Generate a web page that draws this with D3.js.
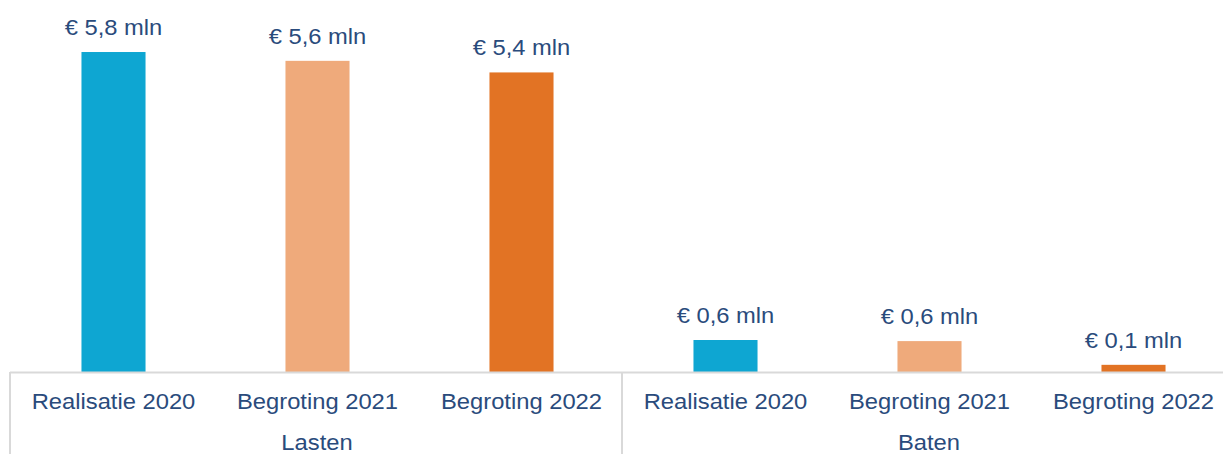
<!DOCTYPE html>
<html>
<head>
<meta charset="utf-8">
<script src="https://cdn.jsdelivr.net/npm/d3@7"></script>
<style>
  body { margin: 0; background: #fff; }
  text { font-family: "Liberation Sans", Arial, sans-serif; fill: #2a4b7c; }
</style>
</head>
<body>
<div class="chart"></div>
<script>
// data
var groups = ["Lasten", "Baten"];
var categories = ["Realisatie 2020", "Begroting 2021", "Begroting 2022"];
var lasten = [5.8, 5.64, 5.43];
var baten = [0.58, 0.56, 0.13];
var colors = ["#0ea6d2", "#efaa7b", "#e27324"];

var W = 1223, H = 454;
var baseY = 372;
var stretch = 1.08; // source text is a bit wider than Arial

var nl = d3.formatLocale({decimal: ",", thousands: ".", grouping: [3], currency: ["€ ", ""]});
var fmt = nl.format(".1f");

var rows = [];
groups.forEach(function (g, gi) {
  var vals = gi === 0 ? lasten : baten;
  categories.forEach(function (c, ci) {
    rows.push({group: g, cat: c, ci: ci, key: g + "|" + c, value: vals[ci]});
  });
});

var svg = d3.select(".chart").append("svg")
  .attr("width", W)
  .attr("height", H);

var x0 = 11;
var x = d3.scaleBand()
  .domain(rows.map(function (d) { return d.key; }))
  .range([x0, x0 + 204 * rows.length])
  .paddingInner(0.686)
  .paddingOuter(0.343);

var y = d3.scaleLinear()
  .domain([0, 6.5])
  .range([baseY, 13.4]);

function place(px, py) {
  return "translate(" + px + "," + py + ") scale(" + stretch + ",1)";
}

// bars
svg.selectAll("rect.bar")
  .data(rows)
  .enter().append("rect")
  .attr("class", "bar")
  .attr("x", function (d) { return x(d.key) + 0.5; })
  .attr("y", function (d) { return y(d.value); })
  .attr("width", x.bandwidth())
  .attr("height", function (d) { return baseY - y(d.value); })
  .attr("fill", function (d) { return colors[d.ci]; });

// value labels
svg.selectAll("text.val")
  .data(rows)
  .enter().append("text")
  .attr("class", "val")
  .attr("transform", function (d) {
    return place(x(d.key) + x.bandwidth() / 2 + 0.5, y(d.value) - 17);
  })
  .attr("text-anchor", "middle")
  .style("font-size", "22px")
  .text(function (d) { return "€ " + fmt(d.value) + " mln"; });

// axis line
var step = x.step();
svg.append("line")
  .attr("x1", 10).attr("x2", W)
  .attr("y1", baseY + 0.5).attr("y2", baseY + 0.5)
  .style("stroke", "#d9d9d9")
  .style("stroke-width", 2);

// group separators
var seps = [0, 3, 6].map(function (i) { return 10 + step * i; });
svg.selectAll("line.sep")
  .data(seps)
  .enter().append("line")
  .attr("class", "sep")
  .attr("x1", function (d) { return d; }).attr("x2", function (d) { return d; })
  .attr("y1", baseY).attr("y2", H)
  .style("stroke", "#d9d9d9")
  .style("stroke-width", 2);

// category labels
svg.selectAll("text.cat")
  .data(rows)
  .enter().append("text")
  .attr("class", "cat")
  .attr("transform", function (d) {
    return place(x(d.key) + x.bandwidth() / 2 + 0.5, 409);
  })
  .attr("text-anchor", "middle")
  .style("font-size", "22px")
  .text(function (d) { return d.cat; });

// group labels
svg.selectAll("text.grp")
  .data(groups)
  .enter().append("text")
  .attr("class", "grp")
  .attr("transform", function (d, i) {
    return place(x0 + step * (i * 3 + 1.5), 450);
  })
  .attr("text-anchor", "middle")
  .style("font-size", "22px")
  .text(function (d) { return d; });
</script>
</body>
</html>
